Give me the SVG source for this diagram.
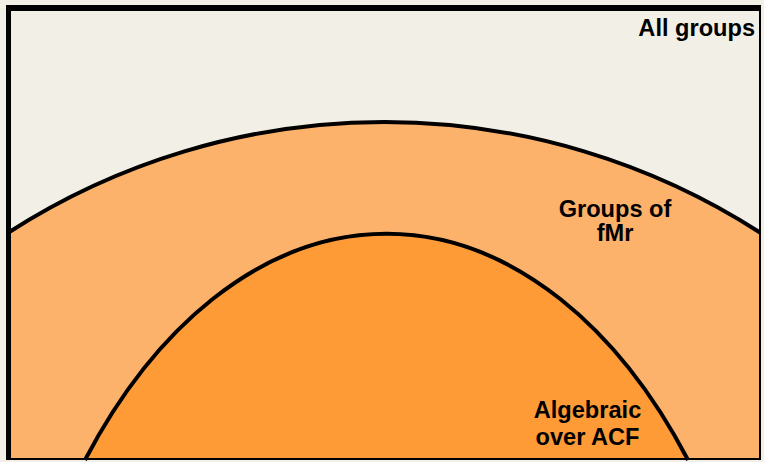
<svg xmlns="http://www.w3.org/2000/svg" width="764" height="462" viewBox="0 0 764 462">
<style>
.lbl{font-family:"Liberation Sans",Arial,sans-serif;font-weight:bold;font-size:23.6px;fill:#000;text-anchor:middle}
.edge{fill:none;stroke:#000}
</style>
<rect x="0" y="0" width="764" height="462" fill="#f2f0e6"/>
<g id="all-groups">
<rect x="8.5" y="8" width="751.5" height="451" fill="#f2f0e6" stroke="none"/>
</g>
<g id="groups-fmr">
<path d="M 8.5 232.5 A 694 694 0 0 1 760 232.5 L 760 459 L 8.5 459 Z" fill="#fdb26b"/>
<path class="edge" d="M 8.5 232.5 A 694 694 0 0 1 760 232.5" stroke-width="4"/>
</g>
<g id="algebraic-acf">
<path d="M 85 460 A 395 639 0 0 1 688 460 Z" fill="#fe9b37"/>
<path class="edge" d="M 85 460 A 395 639 0 0 1 688 460" stroke-width="4"/>
</g>
<g id="frame">
<line class="edge" x1="8.5" y1="5" x2="8.5" y2="460" stroke-width="5"/>
<line class="edge" x1="6" y1="8" x2="761" y2="8" stroke-width="6"/>
<line class="edge" x1="760" y1="5" x2="760" y2="460" stroke-width="2"/>
<line class="edge" x1="6" y1="459" x2="761" y2="459" stroke-width="2"/>
</g>
<g id="labels">
<text class="lbl" x="755" y="36" style="text-anchor:end">All groups</text>
<text class="lbl" x="615" y="217">Groups of</text>
<text class="lbl" x="615" y="241">fMr</text>
<text class="lbl" x="587.5" y="418">Algebraic</text>
<text class="lbl" x="587.5" y="445">over ACF</text>
</g>
</svg>
